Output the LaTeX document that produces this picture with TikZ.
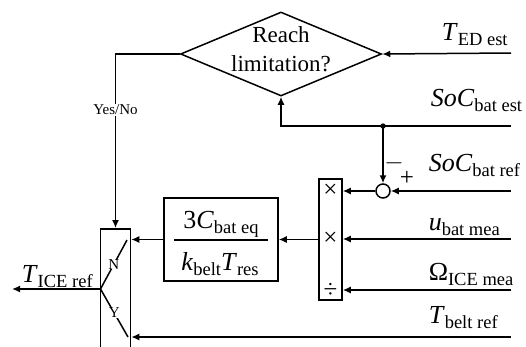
\documentclass[tikz,border=0pt]{standalone}
\usepackage{fontspec}
\setmainfont{Liberation Serif}
\usetikzlibrary{shapes.geometric, arrows.meta, positioning, calc}
\newcommand{\sig}[2]{{\fontsize{26}{28}\selectfont #1}\raisebox{-5pt}{\fontsize{18.5}{20}\selectfont #2}}
\begin{document}
\begin{tikzpicture}[x=1pt, y=-1pt, line width=1.5pt,
      arr/.style={-{Latex[length=8pt,width=7pt]}},
      decision/.style={diamond, draw, inner sep=0pt, minimum width=201pt,
      minimum height=84pt}, block/.style={draw, rectangle, inner sep=0pt},
      sumnode/.style={draw, circle, inner sep=0pt, minimum size=14pt},
      lbl/.style={anchor=base west, inner sep=0pt},
      small/.style={font=\fontsize{15}{17}\selectfont, inner sep=1pt},
      sign/.style={font=\fontsize{25}{26}\selectfont, inner sep=0pt} ]
    \useasboundingbox (0,0) rectangle (526,346);

    % Decision on the limitation
    \node[decision] (dia) at (281,54) {};
    \node[align=center, font=\fontsize{23}{28.5}\selectfont] (diatext) at
    (281,49) {Reach\\limitation?};

    % Blocks
    \node[block, minimum width=30pt, minimum height=130pt, anchor=north] (sw)
    at (115.5,228) {};
    \node[block, minimum width=23pt, minimum height=121pt] (mult) at
    (330.5,239.5) {};
    \node[block, minimum width=114pt, minimum height=83pt] (frac) at
    (221,239.5) {};
    \node[sumnode] (sum) at (383,191) {};

    % Operators of the product block
    \node[sign] (op1) at (330.5,191) {×}; \node[sign] (op2) at (330.5,239)
    {×}; \node[sign] (op3) at (330.5,290) {÷};

    % Gain as a fraction
    \node[anchor=base, inner sep=0pt] (num) at (221,228)
    {\sig{3\textit{C}}{bat eq}};
    \node[anchor=base, inner sep=0pt] (den) at (220,270)
    {\sig{\textit{k}}{belt}\sig{\textit{T}}{res}};
    \draw (174,240) -- (268,240);

    % Signs of the sum
    \node[sign] (minus) at (394,163) {$-$}; \node[sign] (plus) at (407,178)
    {+};

    % Input ends and branch point
    \coordinate (tedin) at (511,53); \coordinate (socin) at (511,126);
    \coordinate (refin) at (511,191); \coordinate (ubin) at (511,239);
    \coordinate (omin) at (511,290); \coordinate (tbin) at (511,337);
    \coordinate (dot) at (383,126); \fill (dot) circle (2.7pt);

    % Input labels
    \node[lbl] (tedlbl) at (441,40) {\sig{\textit{T}}{ED est}};
    \node[lbl] (soclbl) at (430,106) {\sig{\textit{SoC}}{bat est}};
    \node[lbl] (reflbl) at (428,171) {\sig{\textit{SoC}}{bat ref}};
    \node[lbl] (ublbl) at (428,230) {\sig{\textit{u}}{bat mea}};
    \node[lbl] (omlbl) at (428,280) {\sig{Ω}{ICE mea}};
    \node[lbl] (tblbl) at (428,323) {\sig{\textit{T}}{belt ref}};

    % Signal lines
    \draw[arr] (tedin) -- (dia.east);
    \draw[arr] (socin) -- (dot) -| (dia.south);
    \draw[arr] (dot) -- (sum.north);
    \draw[arr] (refin) -- (sum.east);
    \draw[arr] (sum.west) -- (sum.west -| mult.east);
    \draw[arr] (ubin) -- (ubin -| mult.east);
    \draw[arr] (omin) -- (omin -| mult.east);
    \draw[arr] (mult.west) -- (frac.east);
    \draw[arr] (frac.west) -- (frac.west -| sw.east);
    \draw[arr] (tbin) -- (tbin -| sw.east);
    \draw[arr] (dia.west) -| node[pos=0.66, fill=white, small] (yn) {Yes/No}
    (sw.north);

    % Switch contacts and output
    \coordinate (piv) at (100.5,289); \coordinate (nend) at (127,240);
    \coordinate (yend) at (128,337); \coordinate (tout) at (12,289);
    \draw (piv) -- node[fill=white, small, inner sep=0pt] (nlbl) {N} (nend);
    \draw (piv) -- node[fill=white, small, inner sep=0pt] (ylbl) {Y} (yend);
    \draw[arr] (piv) -- (tout);
    \node[lbl] (outlbl) at (21,282) {\sig{\textit{T}}{ICE ref}};

    \end{tikzpicture}
\end{document}
